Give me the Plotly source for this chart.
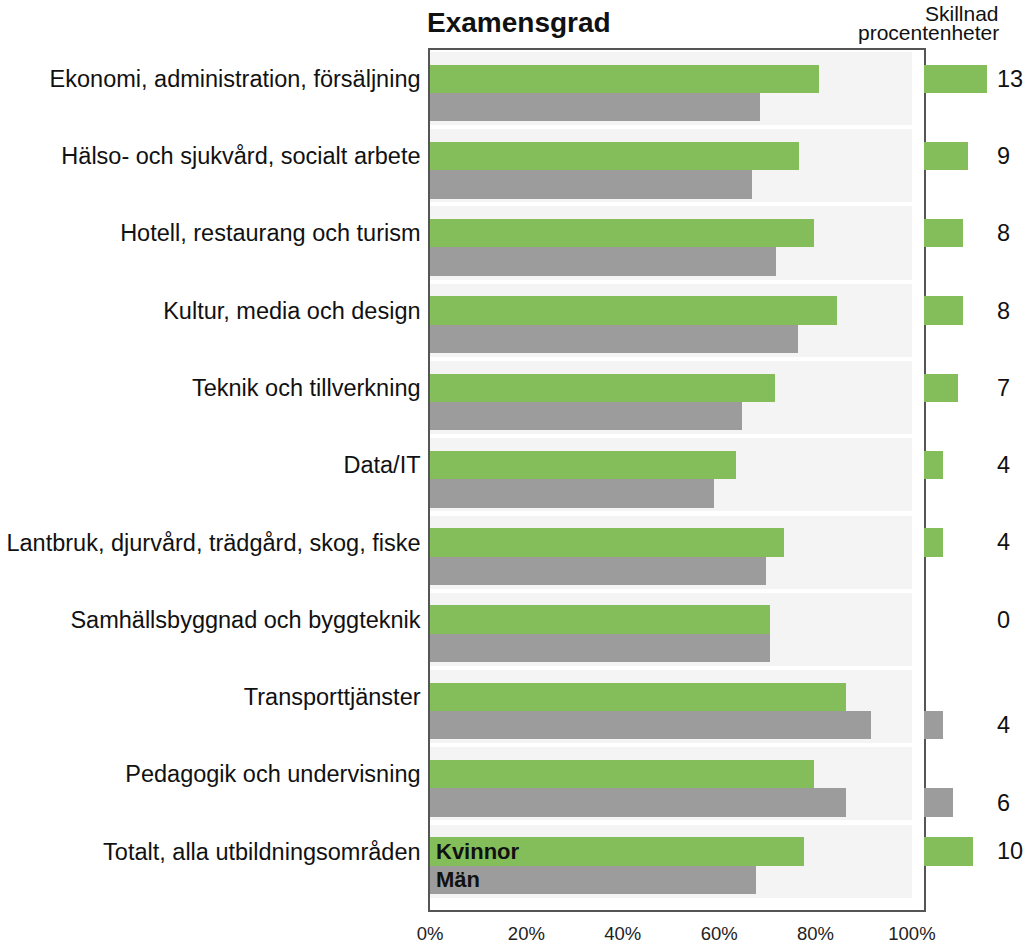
import plotly.graph_objects as go
import numpy as np

categories = [
    "Ekonomi, administration, försäljning",
    "Hälso- och sjukvård, socialt arbete",
    "Hotell, restaurang och turism",
    "Kultur, media och design",
    "Teknik och tillverkning",
    "Data/IT",
    "Lantbruk, djurvård, trädgård, skog, fiske",
    "Samhällsbyggnad och byggteknik",
    "Transporttjänster",
    "Pedagogik och undervisning",
    "Totalt, alla utbildningsområden",
]
women = [80.7, 76.6, 79.7, 84.4, 71.6, 63.4, 73.5, 70.6, 86.3, 79.6, 77.6]
men = [68.4, 66.8, 71.7, 76.4, 64.8, 58.9, 69.7, 70.6, 91.4, 86.4, 67.6]
diff = [13, 9, 8, 8, 7, 4, 4, 0, -4, -6, 10]
x_ticks = [0, 20, 40, 60, 80, 100]
x_ticktext = ["0%", "20%", "40%", "60%", "80%", "100%"]
legend_names = ["Kvinnor", "Män"]

GREEN = "#84be5a"
GRAY = "#9c9c9c"
BAND = "#f4f4f4"
TEXT = "#111111"
FONT = "Liberation Sans, Arial, Helvetica, sans-serif"

W, H = 1024, 946
idx = np.arange(len(categories))
off = 0.184
bw = 0.368
women_y = idx - off
men_y = idx + off

fig = go.Figure()

# background bands
fig.add_trace(go.Bar(x=[100] * len(categories), y=idx - 0.058, orientation="h",
                     width=0.945, marker=dict(color=BAND, line=dict(width=0)),
                     hoverinfo="skip", showlegend=False, xaxis="x", yaxis="y"))
fig.add_trace(go.Bar(x=women, y=women_y, orientation="h", width=bw, name=legend_names[0],
                     marker=dict(color=GREEN, line=dict(width=0)), showlegend=False,
                     xaxis="x", yaxis="y"))
fig.add_trace(go.Bar(x=men, y=men_y, orientation="h", width=bw, name=legend_names[1],
                     marker=dict(color=GRAY, line=dict(width=0)), showlegend=False,
                     xaxis="x", yaxis="y"))

# difference panel
diff_y = [women_y[i] if d >= 0 else men_y[i] for i, d in enumerate(diff)]
diff_c = [GREEN if d >= 0 else GRAY for d in diff]
fig.add_trace(go.Bar(x=[abs(d) for d in diff], y=diff_y, orientation="h", width=bw,
                     marker=dict(color=diff_c, line=dict(width=0)), showlegend=False,
                     xaxis="x2", yaxis="y2"))

ydom = [1 - 910 / H, 1 - 50 / H]
yrange = [10.575, -0.556]

annotations = []
for i, d in enumerate(diff):
    annotations.append(dict(x=995 / W, xref="paper", xanchor="left", y=diff_y[i], yref="y",
                            yanchor="middle", text=str(abs(d)), showarrow=False,
                            font=dict(size=23.5, color=TEXT, family=FONT)))
# legend labels inside the last row's bars
annotations.append(dict(x=0, xref="x", xanchor="left", xshift=4, y=women_y[-1], yref="y",
                        yanchor="middle", text="<b>%s</b>" % legend_names[0], showarrow=False,
                        font=dict(size=22, color=TEXT, family=FONT)))
annotations.append(dict(x=0, xref="x", xanchor="left", xshift=4, y=men_y[-1], yref="y",
                        yanchor="middle", text="<b>%s</b>" % legend_names[1], showarrow=False,
                        font=dict(size=22, color=TEXT, family=FONT)))
# titles
annotations.append(dict(x=425 / W, xref="paper", xanchor="left", y=1 - 22 / H, yref="paper",
                        yanchor="middle", text="<b>Examensgrad</b>", showarrow=False,
                        font=dict(size=28, color=TEXT, family=FONT)))
annotations.append(dict(x=1001 / W, xref="paper", xanchor="right",
                        y=1 - 13 / H, yref="paper", yanchor="middle",
                        text="Skillnad", showarrow=False,
                        font=dict(size=21, color=TEXT, family=FONT)))
annotations.append(dict(x=1001 / W, xref="paper", xanchor="right",
                        y=1 - 32 / H, yref="paper", yanchor="middle",
                        text="procentenheter", showarrow=False,
                        font=dict(size=21, color=TEXT, family=FONT)))

fig.update_layout(
    width=W, height=H, autosize=False,
    margin=dict(l=0, r=0, t=0, b=0, pad=0),
    paper_bgcolor="white", plot_bgcolor="white",
    barmode="overlay", bargap=0,
    font=dict(family=FONT, color=TEXT),
    xaxis=dict(domain=[430 / W, 924 / W], range=[0, 102.5], showgrid=False, zeroline=False,
               showline=True, mirror=True, linecolor="#555555", linewidth=1.5,
               tickvals=x_ticks, ticktext=x_ticktext, ticks="", ticklabelstandoff=6,
               tickfont=dict(size=18.5, color="#222222", family=FONT), fixedrange=True,
               automargin=False),
    yaxis=dict(domain=ydom, range=yrange, showgrid=False, zeroline=False,
               showline=True, mirror=True, linecolor="#555555", linewidth=1.5,
               tickvals=list(women_y), ticktext=categories, ticks="", ticklabelstandoff=3,
               tickfont=dict(size=23.5, color=TEXT, family=FONT), anchor="x",
               automargin=False),
    xaxis2=dict(domain=[924 / W, 1.0], range=[0, 20.6], visible=False, anchor="y2"),
    yaxis2=dict(domain=ydom, range=yrange, visible=False, anchor="x2"),
    annotations=annotations,
)

fig.write_html("out.html", config={"displayModeBar": False},
               post_script="document.body.style.margin='0';document.body.style.overflow='hidden';")
